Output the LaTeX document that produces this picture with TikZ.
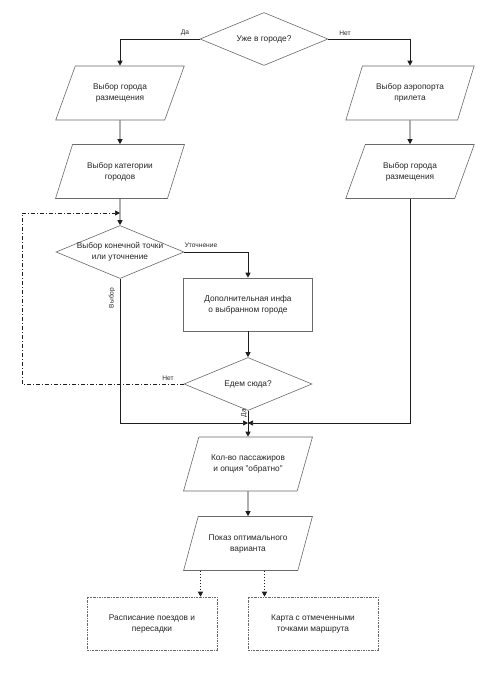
\documentclass[tikz,border=0pt]{standalone}
\usepackage{fontspec}
\setmainfont{Liberation Sans}
\usetikzlibrary{shapes.geometric,arrows.meta,calc}
\definecolor{shapecol}{HTML}{6A6A6A}
\definecolor{linecol}{HTML}{1E1E1E}
\begin{document}
\begin{tikzpicture}[x=1pt,y=-1pt,
 txt/.style={font=\fontsize{8.3}{11}\selectfont, align=center, text=black!85},
 lbl/.style={font=\fontsize{6.6}{8}\selectfont, text=black!85, inner sep=0pt},
 para/.style={trapezium, trapezium left angle=58, trapezium right angle=122, trapezium stretches=true, minimum width=129pt, minimum height=54pt, draw=shapecol, line width=0.6pt, inner sep=0pt, txt},
 dia/.style={diamond, draw=shapecol, line width=0.6pt, minimum width=128pt, minimum height=53pt, inner sep=0pt},
 dtxt/.style={txt, inner sep=0pt},
 proc/.style={rectangle, draw=shapecol, line width=0.6pt, minimum width=129pt, minimum height=53pt, txt},
 opt/.style={rectangle, draw=shapecol, line width=0.6pt, dash pattern=on 2pt off 1pt on 0.6pt off 1pt, minimum width=130pt, minimum height=53pt, txt},
 arr/.style={draw=linecol, line width=0.7pt, -{Triangle[length=5pt,width=5pt]}},
 loopline/.style={arr, dash pattern=on 4pt off 2pt on 1pt off 2pt},
 dotarr/.style={arr, dash pattern=on 1.5pt off 1.5pt},
]
\useasboundingbox (0,0) rectangle (500,679);
\fill[white] (0,0) rectangle (500,679);

% nodes
\node[dia, label={[dtxt]center:Уже в городе?}] (d1) at (264,39) {};
\node[para] (p1) at (120,93) {Выбор города\\размещения};
\node[para] (p2) at (120,171.5) {Выбор категории\\городов};
\node[para] (pr1) at (410,93) {Выбор аэропорта\\прилета};
\node[para] (pr2) at (410,171.5) {Выбор города\\размещения};
\node[dia, label={[dtxt]center:{Выбор конечной точки\\или уточнение}}] (d2) at (120,252) {};
\node[proc] (r1) at (248,304.5) {Дополнительная инфа\\о выбранном городе};
\node[dia, label={[dtxt]center:Едем сюда?}] (d3) at (248,384) {};
\coordinate (j) at (248,423);
\node[para] (p3) at (248,464) {Кол-во пассажиров\\и опция {\char34}обратно{\char34}};
\node[para] (p4) at (248,543.5) {Показ оптимального\\варианта};
\node[opt] (b1) at (152,623.5) {Расписание поездов и\\пересадки};
\node[opt] (b2) at (313,623.5) {Карта с отмеченными\\точками маршрута};
\coordinate (lc) at (22,213);
\path (p4.center |- p4.south) coordinate (p4s);

% connectors
\draw[arr] (d1.west) -| (p1);
\draw[arr] (d1.east) -| (pr1);
\draw[arr] (p1) -- (p2);
\draw[arr] (pr1) -- (pr2);
\draw[arr] (p2) -- (d2);
\draw[arr] (d2.east) -| (r1);
\draw[arr] (r1) -- (d3);
\draw[arr] (d2.south) |- (j);
\draw[arr] (pr2) |- (j);
\draw[arr] (d3) -- (p3);
\draw[arr] (p3) -- (p4);
\draw[loopline] (d3.west) -| (lc) -- (lc -| d2.north);
\draw[dotarr] ([xshift=-47.5pt]p4s) -- ([xshift=-47.5pt]p4s |- b1.north);
\draw[dotarr] ([xshift=16.5pt]p4s) -- ([xshift=16.5pt]p4s |- b2.north);

% labels
\node[lbl] (lda) at (185,33) {Да};
\node[lbl] (lnet) at (345,33) {Нет};
\node[lbl] (lut) at (201,245) {Уточнение};
\node[lbl, rotate=90] (lvy) at (112,298) {Выбор};
\node[lbl] (lnet2) at (168,378) {Нет};
\node[lbl, rotate=90] (lda2) at (244,413) {Да};
\end{tikzpicture}
\end{document}
